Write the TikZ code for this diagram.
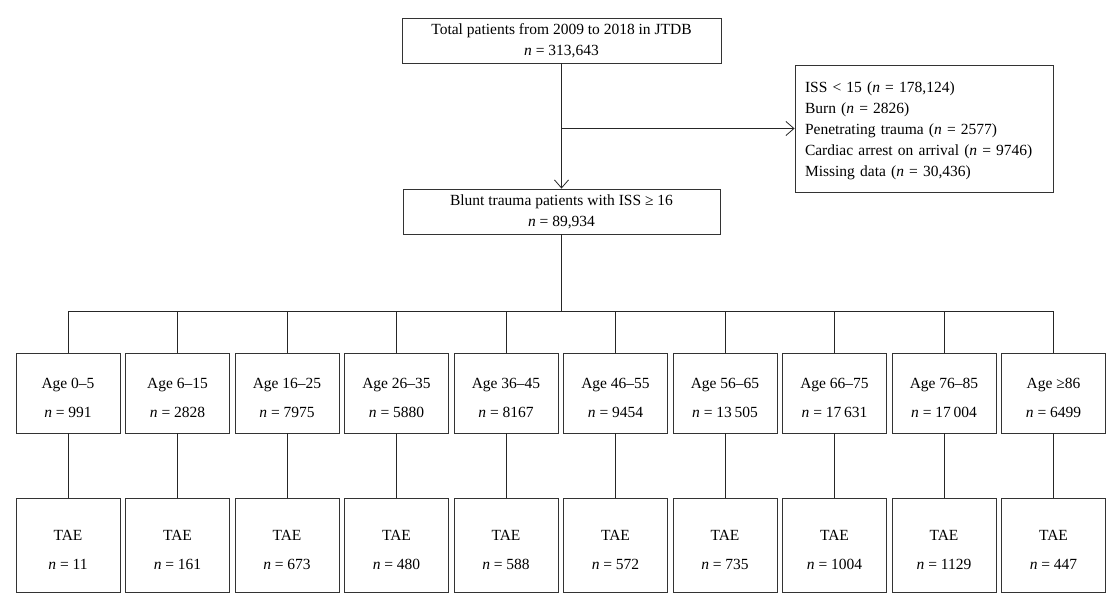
\documentclass[tikz,border=0pt]{standalone}
\usepackage{fontspec}
\setmainfont{Liberation Serif}
\usetikzlibrary{arrows.meta, positioning, calc}

\newcommand{\toppad}{\rule{0pt}{20.5pt}}

\begin{document}
\begin{tikzpicture}[x=1pt, y=-1pt, font=\fontsize{15.5}{21}\selectfont,
  box/.style={draw=black!80, line width=0.9pt, inner sep=0pt, align=center},
  groupbox/.style={box, minimum width=104pt},
  link/.style={draw=black!85, line width=0.8pt},
  arr/.style={link, -{Straight Barb[length=8pt,width=14pt]}}]
  \useasboundingbox (0,0) rectangle (1113,599);

  % Cohort
  \node[box, minimum width=319pt, minimum height=45pt] (total) at (561.5,40.5) {Total patients from 2009 to 2018 in JTDB\\\textit{n} = 313,643};
  \node[box, minimum width=317pt, minimum height=45pt] (blunt) at (561.5,211.5) {Blunt trauma patients with ISS ≥ 16\\\textit{n} = 89,934};

  % Exclusions
  \node[box, text width=238pt, inner xsep=10pt, minimum height=127pt, align=left] (excl) at (924,128.5) {
    \rule{0pt}{16pt}ISS < 15 (\textit{n} = 178,124)\\
    Burn (\textit{n} = 2826)\\
    Penetrating trauma (\textit{n} = 2577)\\
    Cardiac arrest on arrival (\textit{n} = 9746)\\
    Missing data (\textit{n} = 30,436)
  };

  \draw[arr] (total) -- (blunt);
  \draw[arr] (total.south |- excl.west) -- (excl.west);

  % Age groups and TAE
  \coordinate (bus) at (561.5,311);
  \foreach \i/\lo/\na/\nt in {1/0--5/991/11, 2/6--15/2828/161, 3/16--25/7975/673, 4/26--35/5880/480, 5/36--45/8167/588, 6/46--55/9454/572, 7/56--65/13\,505/735, 8/66--75/17\,631/1004, 9/76--85/17\,004/1129, 10/≥86/6499/447} {
    \node[groupbox, minimum height=80pt] (age\i) at ({68+(\i-1)*109.5},393) {\toppad Age \lo\\[8pt]\textit{n} = \na};
    \node[groupbox, minimum height=94pt] (tae\i) at ({68+(\i-1)*109.5},545) {\toppad TAE\\[8pt]\textit{n} = \nt};
    \draw[link] (age\i.north |- bus) -- (age\i);
    \draw[link] (age\i) -- (tae\i);
  }
  \draw[link] (blunt) -- (bus);
  \draw[link] (age1.north |- bus) -- (age10.north |- bus);
\end{tikzpicture}
\end{document}
